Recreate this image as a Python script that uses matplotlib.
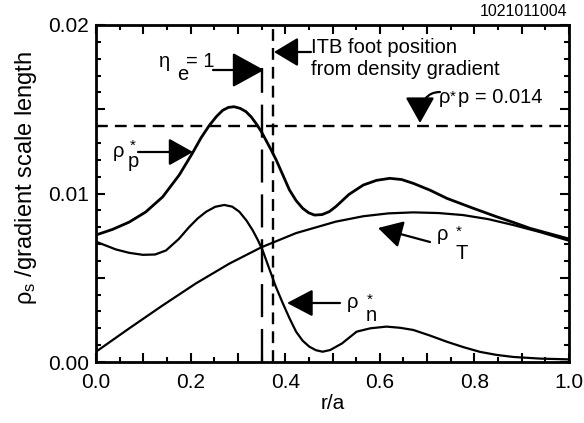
import matplotlib
matplotlib.use("Agg")
import matplotlib.pyplot as plt
from matplotlib.ticker import MultipleLocator, FuncFormatter

plt.rcParams['font.family'] = ['Liberation Sans', 'DejaVu Sans']
plt.rcParams['mathtext.fontset'] = 'custom'
plt.rcParams['mathtext.rm'] = 'Liberation Sans'
plt.rcParams['mathtext.it'] = 'Liberation Sans'
plt.rcParams['mathtext.bf'] = 'Liberation Sans:bold'

# rho*_p (pressure gradient)
r_p = [0.0, 0.035, 0.07, 0.105, 0.141, 0.176, 0.204, 0.222, 0.24, 0.255, 0.268,
       0.28, 0.292, 0.305, 0.317, 0.328, 0.338, 0.349, 0.359, 0.37, 0.381, 0.395,
       0.409, 0.423, 0.437, 0.45, 0.462, 0.478, 0.493, 0.507, 0.535, 0.565, 0.593,
       0.621, 0.646, 0.671, 0.706, 0.742, 0.795, 0.847, 0.883, 0.918, 0.957, 0.995, 1.0]
rho_p = [0.00754, 0.00787, 0.0083, 0.0089, 0.0098, 0.0111, 0.0124, 0.0133, 0.01406,
         0.01458, 0.01494, 0.01511, 0.01515, 0.01505, 0.01486, 0.01455, 0.01417, 0.0137,
         0.01318, 0.0126, 0.01199, 0.0111, 0.01021, 0.00958, 0.00912, 0.00885, 0.00872,
         0.00875, 0.00892, 0.00922, 0.00995, 0.0105, 0.01078, 0.0109, 0.01083, 0.0106,
         0.0102, 0.00971, 0.00915, 0.00862, 0.00828, 0.00793, 0.00763, 0.00734, 0.0073]

# rho*_n (density gradient)
r_n = [0.0, 0.042, 0.07, 0.099, 0.125, 0.148, 0.175, 0.197, 0.215, 0.233, 0.252,
       0.271, 0.288, 0.303, 0.318, 0.331, 0.342, 0.352, 0.366, 0.38, 0.395, 0.409,
       0.423, 0.437, 0.451, 0.465, 0.479, 0.495, 0.52, 0.551, 0.58, 0.614, 0.643,
       0.671, 0.706, 0.742, 0.777, 0.812, 0.847, 0.882, 0.94, 0.995, 1.0]
rho_n = [0.00714, 0.00668, 0.00648, 0.00636, 0.00638, 0.00662, 0.0073, 0.00801, 0.00852,
         0.00892, 0.00921, 0.00932, 0.00922, 0.00892, 0.0084, 0.00783, 0.00725, 0.00665,
         0.00556, 0.00448, 0.00348, 0.0026, 0.0018, 0.00126, 0.00091, 0.0007, 0.00061,
         0.00071, 0.0011, 0.0018, 0.002, 0.0021, 0.00203, 0.0019, 0.00157, 0.0012,
         0.00088, 0.0006, 0.00042, 0.0003, 0.0002, 0.00016, 0.00015]

# rho*_T (temperature gradient)
r_T = [0.0, 0.0705, 0.141, 0.211, 0.282, 0.349, 0.423, 0.507, 0.565, 0.618, 0.671,
       0.724, 0.776, 0.829, 0.882, 0.94, 0.995, 1.0]
rho_T = [0.00061, 0.002, 0.00336, 0.00466, 0.00584, 0.0068, 0.00765, 0.00833, 0.00865,
         0.00882, 0.00888, 0.00884, 0.00872, 0.00848, 0.00813, 0.0077, 0.00724, 0.0072]

eta_e1_x = 0.351       # eta_e = 1
eta_line_top = 0.01745
itb_foot_x = 0.374     # ITB foot from density gradient
rho_p_crit = 0.014

W, H = 584, 423
L, R, T, B = 96, 569, 25, 362

fig = plt.figure(figsize=(W / 100, H / 100), dpi=100)
ax = fig.add_axes([L / W, 1 - B / H, (R - L) / W, (B - T) / H])


def P(x, y):
    # pixel position in the picture -> data coordinates
    return ((x - L) / (R - L), (B - y) / (B - T) * 0.02)


ax.plot(r_p, rho_p, color='k', lw=2.0)
ax.plot(r_n, rho_n, color='k', lw=1.6)
ax.plot(r_T, rho_T, color='k', lw=1.6)

ax.axhline(rho_p_crit, color='k', lw=1.7, dashes=(5, 3))
ax.axvline(itb_foot_x, color='k', lw=1.7, dashes=(5, 3))
ax.plot([eta_e1_x, eta_e1_x], [0, eta_line_top], color='k', lw=1.7, dashes=(14, 5))

ax.set_xlim(0, 1)
ax.set_ylim(0, 0.02)
ax.xaxis.set_major_locator(MultipleLocator(0.1))
ax.xaxis.set_minor_locator(MultipleLocator(0.05))
ax.yaxis.set_major_locator(MultipleLocator(0.005))
ax.yaxis.set_minor_locator(MultipleLocator(0.001))
ax.xaxis.set_major_formatter(FuncFormatter(
    lambda v, p: f'{v:.1f}' if abs(v * 5 - round(v * 5)) < 1e-6 else ''))
ax.yaxis.set_major_formatter(FuncFormatter(
    lambda v, p: f'{v:.2f}' if abs(v * 100 - round(v * 100)) < 1e-6 else ''))
ax.tick_params(which='both', direction='in', top=True, right=True, width=1.5,
               labelsize=15)
ax.tick_params(which='major', length=6.5)
ax.tick_params(which='minor', length=3.5)
ax.tick_params(axis='x', pad=8)
ax.tick_params(axis='y', pad=5)
for s in ax.spines.values():
    s.set_linewidth(2)

ax.set_xlabel('r/a', fontsize=15, labelpad=1)
ax.set_ylabel(r'$\rho_s$ /gradient scale length', fontsize=17)
ax.yaxis.set_label_coords(-0.12, 0.545)

fs = 14.5
kw = dict(fontsize=fs, ha='left', va='baseline')

# eta_e = 1
ax.text(*P(159, 67), 'η', **kw)
ax.text(*P(177, 80), 'e', **kw)
ax.text(*P(186, 67), '= 1', **kw)

# ITB foot
ax.text(*P(311, 53), 'ITB foot position', **kw)
ax.text(*P(311, 75), 'from density gradient', **kw)

# rho*p = 0.014
ax.text(*P(439, 103), 'ρ', **kw)
ax.text(*P(450, 101), '*', fontsize=11, ha='left', va='baseline')
ax.text(*P(458, 103), 'p = 0.014', **kw)

# curve labels
for (xr, yr), (xs, ys), (xb, yb), sub in [((113, 157), (130, 150), (128, 167), 'p'),
                                          ((347, 308), (367, 304), (366, 321), 'n'),
                                          ((437, 240), (456, 236), (455, 259), 'T')]:
    ax.text(*P(xr, yr), 'ρ', **kw)
    ax.text(*P(xs, ys), '*', fontsize=11, ha='left', va='baseline')
    ax.text(*P(xb, yb), sub, **kw)

fig.text(567 / W, 1 - 12 / H, '1021011004', fontsize=11.5, ha='right', va='center')


def arrow(tip, tail, hl, hw, cs='arc3,rad=0'):
    ax.annotate('', xy=P(*tip), xytext=P(*tail),
                arrowprops=dict(arrowstyle=f'-|>,head_length={hl},head_width={hw}',
                                color='k', lw=1.6, mutation_scale=20,
                                shrinkA=0, shrinkB=0, connectionstyle=cs))


arrow((264, 70), (213, 70), 1.0, 0.55)
arrow((274, 52), (311, 52), 0.75, 0.45)
arrow((420, 123), (440, 92), 0.8, 0.45, cs='angle3,angleA=180,angleB=90')
arrow((193, 152), (138, 152), 0.75, 0.42)
arrow((287, 303), (340, 303), 0.8, 0.42)
arrow((378, 228), (430, 242), 0.75, 0.42)

fig.savefig('out.png', dpi=100)
